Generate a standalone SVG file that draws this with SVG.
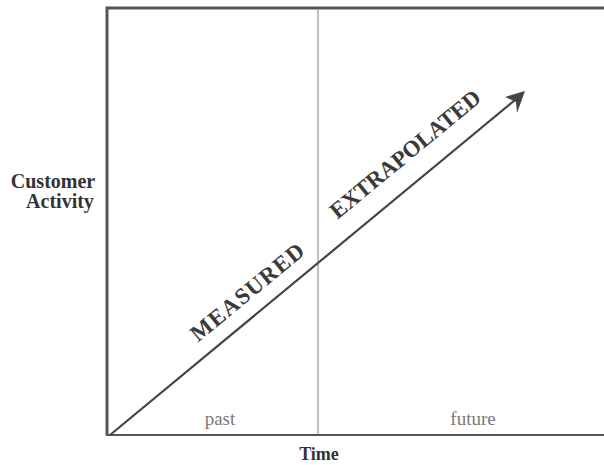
<svg xmlns="http://www.w3.org/2000/svg" width="604" height="465" viewBox="0 0 604 465">
<defs>
<style>
.lbl{font-family:"Liberation Serif","Times New Roman",serif;font-weight:bold;fill:#333}
.seg{font-family:"Liberation Serif","Times New Roman",serif;fill:#7a7a7a;font-size:19px}
.diag{font-family:"Liberation Serif","Times New Roman",serif;font-weight:bold;fill:#3a3a3a;font-size:23px}
</style>
</defs>
<rect width="604" height="465" fill="#fff"/>
<g id="frame">
<path d="M107,435 L107,8 L606,8" fill="none" stroke="#555" stroke-width="3"/>
<line x1="106" y1="435" x2="606" y2="435" stroke="#555" stroke-width="2"/>
<line x1="318" y1="9" x2="318" y2="434" stroke="#aaa" stroke-width="1.5"/>
</g>
<g id="connectors">
<line x1="110" y1="435" x2="515" y2="100" stroke="#444" stroke-width="2.2"/>
<path d="M525,91 L505,97 L516,102 L517,113 Z" fill="#444"/>
</g>
<g id="labels">
<text class="lbl" x="53" y="188" font-size="20" text-anchor="middle">Customer</text>
<text class="lbl" x="60" y="208" font-size="20" text-anchor="middle">Activity</text>
<text class="lbl" x="319" y="460" font-size="18" text-anchor="middle">Time</text>
<text class="seg" x="220" y="425" text-anchor="middle">past</text>
<text class="seg" x="473" y="425" text-anchor="middle">future</text>
<text class="diag" transform="translate(252,298) rotate(-39.5)" text-anchor="middle" textLength="140">MEASURED</text>
<text class="diag" transform="translate(410,160) rotate(-39.5)" text-anchor="middle" textLength="188">EXTRAPOLATED</text>
</g>
</svg>
